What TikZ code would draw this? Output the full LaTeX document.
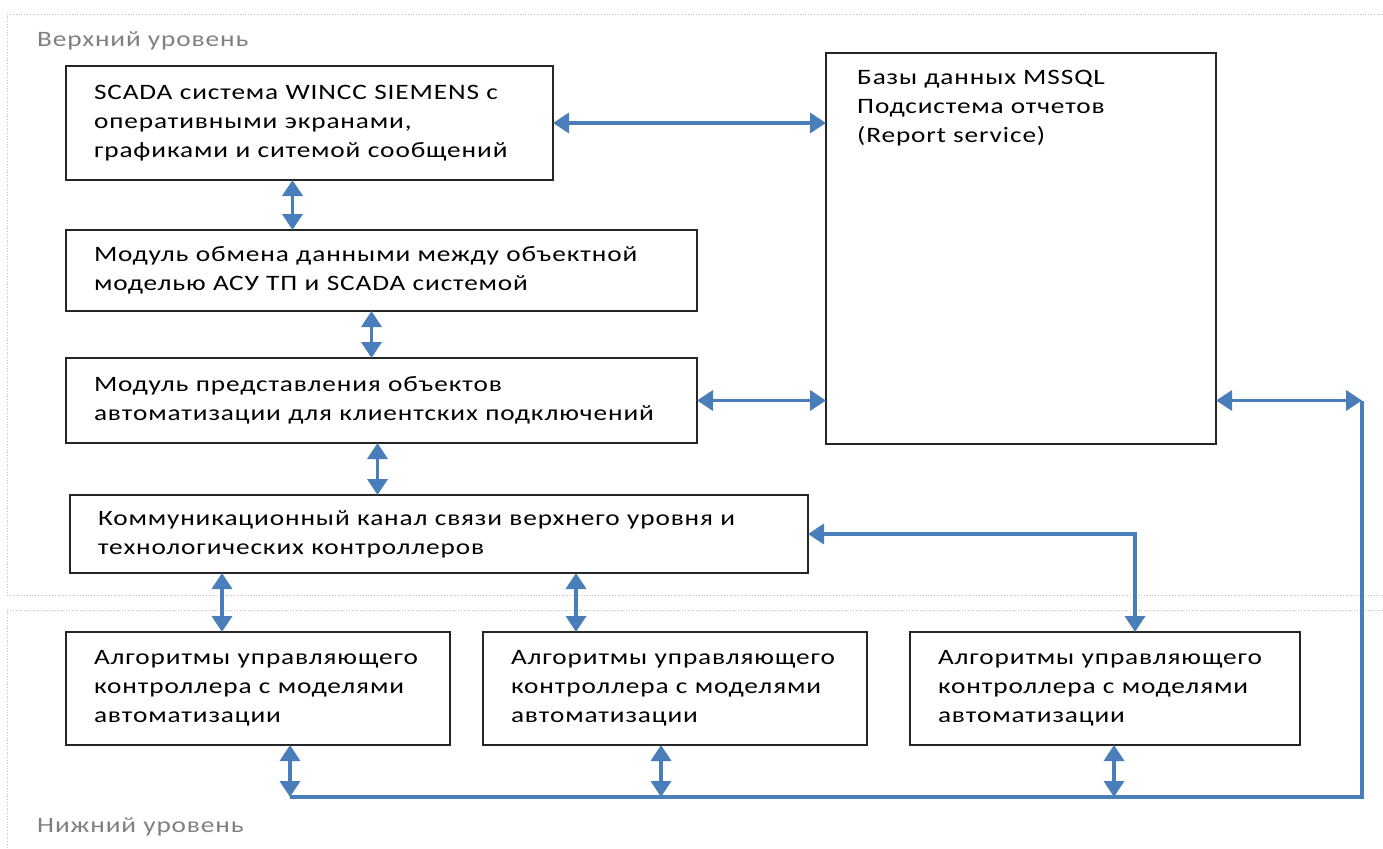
\documentclass[tikz,border=0pt]{standalone}
\usepackage{fontspec}
\setmainfont{Carlito}[FakeStretch=1.24, LetterSpace=4]
\usepackage{tikz}
\usetikzlibrary{arrows.meta,positioning,calc}

\definecolor{linkblue}{RGB}{74,126,187}
\newcommand\boxfont{\fontsize{22}{29}\selectfont}

\begin{document}
\begin{tikzpicture}[
  x=1pt, y=-1pt,
  box/.style={draw=black!85, line width=2pt, align=left, anchor=north west, font=\boxfont, inner xsep=28pt, inner ysep=0pt, outer sep=0pt, fill=white},
  txt/.style={align=left, anchor=north west, font=\boxfont, inner sep=0pt},
  lvl/.style={anchor=base west, font=\boxfont, text=black!50, inner sep=0pt},
  zone/.style={draw=black!25, dotted, line width=0.8pt},
  link/.style={{Triangle[length=16pt,width=20pt]}-{Triangle[length=16pt,width=20pt]}, draw=linkblue, line width=3.5pt},
  wire/.style={draw=linkblue, line width=3.5pt, line join=miter}
]
\useasboundingbox (0,0) rectangle (1383,848);
\draw[zone] (1383,14) -- (7,14) -- (7,595) -- (1383,595);
\draw[zone] (1383,610) -- (7,610) -- (7,848);
\node[lvl] (top) at (37,47) {Верхний уровень};
\node[lvl] (bottom) at (37,832) {Нижний уровень};

\node[box, text width=431pt, minimum height=114pt] (scada) at (66,66) {SCADA система WINCC SIEMENS с\\оперативными экранами,\\графиками и ситемой сообщений};
\node[box, minimum width=390pt, minimum height=391pt] (db) at (826,53) {};
\node[txt] (dbtext) at ([xshift=31pt, yshift=-17pt]db.north west) {Базы данных MSSQL\\Подсистема отчетов\\(Report service)};
\node[box, text width=575pt, minimum height=81pt, below=50pt of scada.south west, anchor=north west] (exch) {Модуль обмена данными между объектной\\моделью АСУ ТП и SCADA системой};
\node[box, text width=575pt, minimum height=85pt, below=47pt of exch.south west, anchor=north west] (repr) {Модуль представления объектов\\автоматизации для клиентских подключений};
\node[box, text width=682pt, minimum height=78pt] (comm) at (70,495) {Коммуникационный канал связи верхнего уровня и\\технологических контроллеров};
\node[box, text width=328pt, minimum height=113pt] (alg1) at (66,632) {Алгоритмы управляющего\\контроллера с моделями\\автоматизации};
\node[box, text width=328pt, minimum height=113pt, right=33pt of alg1.north east, anchor=north west] (alg2) {Алгоритмы управляющего\\контроллера с моделями\\автоматизации};
\node[box, text width=334pt, minimum height=113pt, right=43pt of alg2.north east, anchor=north west] (alg3) {Алгоритмы управляющего\\контроллера с моделями\\автоматизации};

\coordinate (busR) at (1362,797);

\draw[link] (scada.east) -- (db.west |- scada.east);
\draw[link] ([xshift=-17pt]scada.south) -- ([xshift=-17pt]scada.south |- exch.north);
\draw[link] ([xshift=-10pt]exch.south) -- ([xshift=-10pt]exch.south |- repr.north);
\draw[link] (repr.east) -- (db.west |- repr.east);
\draw[link] ([xshift=-4pt]repr.south) -- ([xshift=-4pt]repr.south |- comm.north);
\draw[link] ([xshift=-36pt]alg1.north) -- ([xshift=-36pt]alg1.north |- comm.south);
\draw[link] ([xshift=-99pt]alg2.north) -- ([xshift=-99pt]alg2.north |- comm.south);
\draw[link] (comm.east) -| ([xshift=30pt]alg3.north);
\draw[link] ([xshift=32pt]alg1.south) -- ([xshift=32pt]alg1.south |- busR);
\draw[link] ([xshift=-14pt]alg2.south) -- ([xshift=-14pt]alg2.south |- busR);
\draw[link] ([xshift=9pt]alg3.south) -- ([xshift=9pt]alg3.south |- busR);
\draw[wire] ([xshift=32pt]alg1.south |- busR) -- (busR) -- (busR |- repr.east);
\draw[link] (db.east |- repr.east) -- (busR |- repr.east);
\end{tikzpicture}
\end{document}
